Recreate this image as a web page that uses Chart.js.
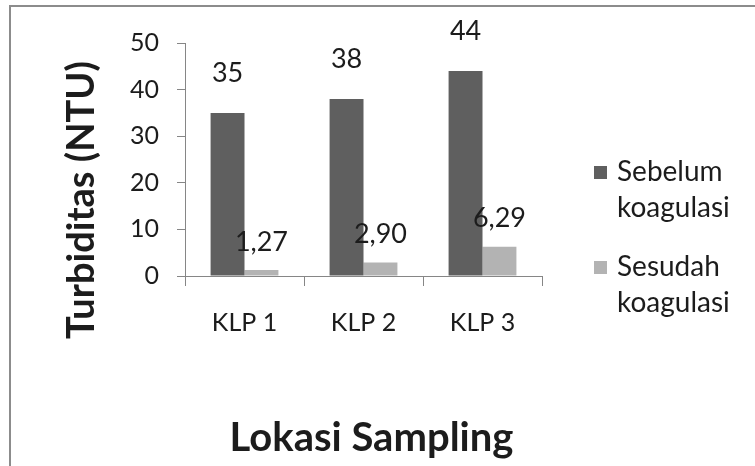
<!DOCTYPE html>
<html>
<head>
<meta charset="utf-8">
<script src="https://cdn.jsdelivr.net/npm/chart.js@4.4.0/dist/chart.umd.min.js"></script>
<style>
  html, body { margin: 0; padding: 0; background: #fff; }
  #wrap { width: 755px; height: 466px; position: relative; }
</style>
</head>
<body>
<div id="wrap"><canvas id="grafik" width="755" height="466"></canvas></div>
<script>
// data
var kelompok = ["KLP 1", "KLP 2", "KLP 3"];
var sebelum = [35, 38, 44];
var sesudah = [1.27, 2.90, 6.29];
var yTicks = [0, 10, 20, 30, 40, 50];

var FONT = "Lato";
var warnaTeks = "#1c1c1c";
var warnaSumbu = "#868686";

// format angka pakai koma
function formatNilai(v, desimal){
    return v.toFixed(desimal).replace(".", ",");
}

// label nilai di atas batang
var labelNilai = {
    id: "labelNilai",
    afterDatasetsDraw: function(chart){
        var ctx = chart.ctx;
        ctx.save();
        ctx.font = "27px " + FONT;
        ctx.fillStyle = warnaTeks;
        ctx.textAlign = "center";
        ctx.textBaseline = "middle";
        chart.data.datasets.forEach(function(ds, i){
            var meta = chart.getDatasetMeta(i);
            meta.data.forEach(function(bar, j){
                var naik = i === 0 ? 40 : 28;
                ctx.fillText(formatNilai(ds.data[j], ds.desimal), bar.x, bar.y - naik);
            });
        });
        ctx.restore();
    }
};

// bingkai, judul sumbu, legenda
var hiasan = {
    id: "hiasan",
    afterDraw: function(chart){
        var ctx = chart.ctx;
        var area = chart.chartArea;
        ctx.save();

        // bingkai abu-abu (atas dan kiri)
        ctx.strokeStyle = "#8c8c8c";
        ctx.lineWidth = 2;
        ctx.beginPath();
        ctx.moveTo(10, 466);
        ctx.lineTo(10, 6);
        ctx.lineTo(755, 6);
        ctx.stroke();

        // judul sumbu y
        ctx.fillStyle = warnaTeks;
        ctx.font = "bold 38px " + FONT;
        ctx.textAlign = "center";
        ctx.textBaseline = "middle";
        ctx.save();
        ctx.translate(82, 200);
        ctx.rotate(-Math.PI / 2);
        ctx.fillText("Turbiditas (NTU)", 0, 0);
        ctx.restore();

        // judul sumbu x
        ctx.font = "bold 40px " + FONT;
        ctx.fillText("Lokasi Sampling", (area.left + area.right) / 2 + 8, 438);

        // legenda
        ctx.font = "28px " + FONT;
        ctx.textAlign = "left";
        chart.data.datasets.forEach(function(ds, i){
            var y0 = area.top + 129 + i * 95;
            ctx.fillStyle = ds.backgroundColor;
            ctx.fillRect(area.right + 52, y0 - 6, 13, 13);
            ctx.fillStyle = warnaTeks;
            ds.label.split(" ").forEach(function(baris, k){
                ctx.fillText(baris, area.right + 75, y0 + k * 36);
            });
        });
        ctx.restore();
    }
};

var ctx = document.getElementById("grafik").getContext("2d");
var myChart = new Chart(ctx, {
    type: "bar",
    data: {
        labels: kelompok,
        datasets: [
            { label: "Sebelum koagulasi", data: sebelum, backgroundColor: "#5f5f5f", desimal: 0 },
            { label: "Sesudah koagulasi", data: sesudah, backgroundColor: "#b3b3b3", desimal: 2 }
        ]
    },
    options: {
        responsive: false,
        animation: false,
        layout: { padding: { left: 0, right: 213, top: 43, bottom: 0 } },
        categoryPercentage: 0.57,
        barPercentage: 1.0,
        plugins: {
            legend: { display: false },
            tooltip: { enabled: false }
        },
        scales: {
            x: {
                afterFit: function(s){ s.height = 190; },
                grid: { offset: true, drawOnChartArea: false, tickLength: 10, color: warnaSumbu },
                border: { color: warnaSumbu },
                ticks: { font: { family: FONT, size: 25 }, color: warnaTeks, padding: 22 }
            },
            y: {
                min: 0,
                max: 50,
                afterFit: function(s){ s.width = 185; },
                afterBuildTicks: function(s){ s.ticks = yTicks.map(function(v){ return { value: v }; }); },
                grid: { drawOnChartArea: false, tickLength: 8, color: warnaSumbu },
                border: { color: warnaSumbu },
                ticks: { font: { family: FONT, size: 25 }, color: warnaTeks, padding: 18 }
            }
        }
    },
    plugins: [labelNilai, hiasan]
});
</script>
</body>
</html>
